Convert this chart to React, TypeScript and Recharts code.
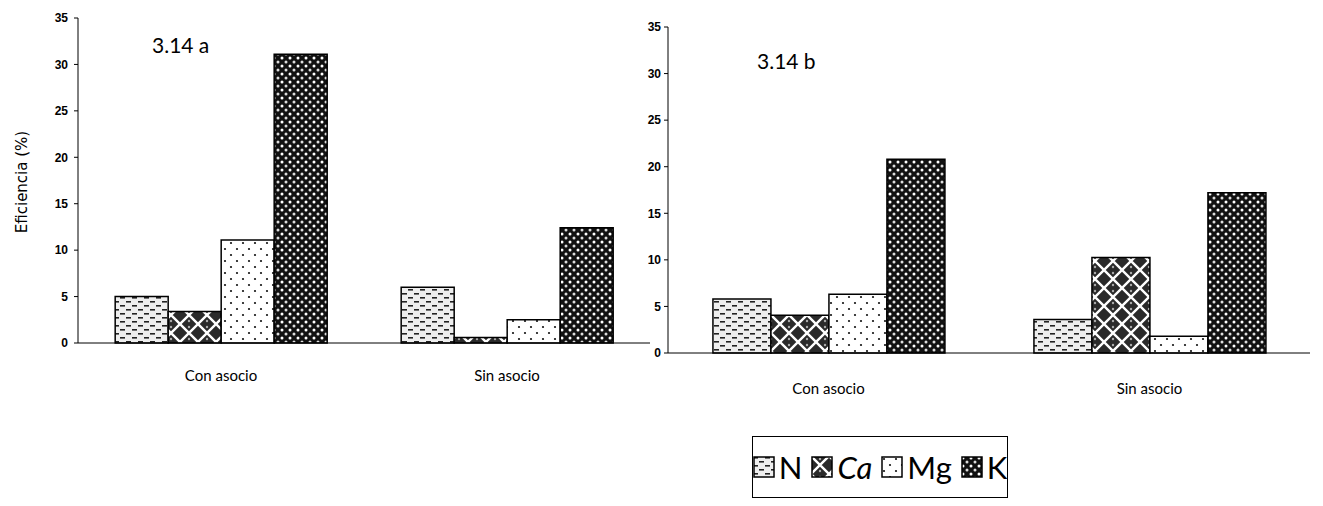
import { Bar, BarChart, Legend, XAxis, YAxis } from "recharts";

const categorias = ["Con asocio", "Sin asocio"];
const nutrientes = ["N", "Ca", "Mg", "K"];

// 3.14 a
const aN = [5.0, 6.0];
const aCa = [3.4, 0.6];
const aMg = [11.1, 2.5];
const aK = [31.1, 12.4];

// 3.14 b
const bN = [5.8, 3.6];
const bCa = [4.05, 10.25];
const bMg = [6.3, 1.8];
const bK = [20.8, 17.2];

const yTicks = [0, 5, 10, 15, 20, 25, 30, 35];

function buildData(n: number[], ca: number[], mg: number[], k: number[]) {
  return categorias.map((cat, i) => ({
    cat,
    N: n[i],
    Ca: ca[i],
    Mg: mg[i],
    K: k[i],
  }));
}

const dataA = buildData(aN, aCa, aMg, aK);
const dataB = buildData(bN, bCa, bMg, bK);

const catFont = "Lato, 'Open Sans', sans-serif";

const Patterns = ({ p }: { p: string }) => (
  <defs>
    <pattern id={`${p}-N`} width="12" height="8" patternUnits="userSpaceOnUse">
      <rect width="12" height="8" fill="#eeeeee" />
      <rect x="0" y="1" width="5" height="1.6" fill="#222" />
      <rect x="6" y="5" width="5" height="1.6" fill="#222" />
    </pattern>
    <pattern id={`${p}-Ca`} width="18" height="18" patternUnits="userSpaceOnUse">
      <rect width="18" height="18" fill="#2a2a2a" />
      <path d="M0 0 L18 18 M18 0 L0 18" stroke="#fff" strokeWidth="2.4" />
      <circle cx="9" cy="3" r="1.2" fill="#aaa" />
      <circle cx="9" cy="15" r="1.2" fill="#aaa" />
    </pattern>
    <pattern id={`${p}-Mg`} width="12" height="12" patternUnits="userSpaceOnUse">
      <rect width="12" height="12" fill="#ffffff" />
      <circle cx="3" cy="3" r="1.1" fill="#111" />
      <circle cx="9" cy="9" r="1.1" fill="#111" />
    </pattern>
    <pattern id={`${p}-K`} width="8" height="8" patternUnits="userSpaceOnUse">
      <rect width="8" height="8" fill="#111" />
      <circle cx="2" cy="2" r="1.5" fill="#fff" />
      <circle cx="6" cy="6" r="1.5" fill="#ddd" />
    </pattern>
  </defs>
);

const CustomLegend = (props: any) => {
  const items = [...(props.payload || [])].sort(
    (x: any, y: any) => nutrientes.indexOf(x.value) - nutrientes.indexOf(y.value)
  );
  return (
    <div
      style={{
        border: "1px solid #000",
        height: 62,
        width: 256,
        display: "flex",
        alignItems: "center",
        justifyContent: "center",
        gap: 9,
        fontFamily: catFont,
        fontSize: 31,
        color: "#000",
        boxSizing: "border-box",
      }}
    >
      {items.map((e: any) => (
        <div key={e.value} style={{ display: "flex", alignItems: "center", gap: 4 }}>
          <svg width={22} height={22}>
            <rect x={1} y={1} width={20} height={20} fill={e.color} stroke="#000" strokeWidth={1.5} />
          </svg>
          <span style={{ fontStyle: e.value === "Ca" ? "italic" : "normal" }}>{e.value}</span>
        </div>
      ))}
    </div>
  );
};

const tickStyle = { fontSize: 12, fill: "#000", fontFamily: "'Liberation Sans', sans-serif", fontWeight: 700 };

const App = () => {
  return (
    <div
      style={{
        position: "absolute",
        top: 0,
        left: 0,
        width: 1323,
        height: 506,
        background: "#fff",
        overflow: "hidden",
      }}
    >
      {/* grafico a */}
      <div style={{ position: "absolute", left: 0, top: 0 }}>
        <BarChart
          width={670}
          height={420}
          data={dataA}
          margin={{ top: 18, right: 20, left: 38, bottom: 37 }}
          barCategoryGap="13%"
          barGap={0}
        >
          <Patterns p="a" />
          <XAxis
            dataKey="cat"
            axisLine={{ stroke: "#000" }}
            tickLine={false}
            tickSize={0}
            tickMargin={27}
            height={40}
            tick={{ fontSize: 15, fill: "#000", fontFamily: catFont }}
          />
          <YAxis
            width={40}
            domain={[0, 35]}
            ticks={yTicks}
            interval={0}
            axisLine={{ stroke: "#000" }}
            tickLine={{ stroke: "#000" }}
            tickSize={4}
            tickMargin={6}
            tick={tickStyle}
          />
          {nutrientes.map((k) => (
            <Bar
              key={k}
              dataKey={k}
              fill={`url(#a-${k})`}
              stroke="#000"
              strokeWidth={1.5}
              isAnimationActive={false}
            />
          ))}
        </BarChart>
      </div>

      {/* grafico b */}
      <div style={{ position: "absolute", left: 600, top: 0 }}>
        <BarChart
          width={723}
          height={506}
          data={dataB}
          margin={{ top: 27, right: 13, left: 28, bottom: 113 }}
          barCategoryGap="14%"
          barGap={0}
        >
          <Patterns p="b" />
          <XAxis
            dataKey="cat"
            axisLine={{ stroke: "#000" }}
            tickLine={false}
            tickSize={0}
            tickMargin={30}
            height={40}
            tick={{ fontSize: 15, fill: "#000", fontFamily: catFont }}
          />
          <YAxis
            width={40}
            domain={[0, 35]}
            ticks={yTicks}
            interval={0}
            axisLine={{ stroke: "#000" }}
            tickLine={{ stroke: "#000" }}
            tickSize={4}
            tickMargin={3}
            tick={tickStyle}
          />
          <Legend
            layout="horizontal"
            verticalAlign="middle"
            align="center"
            content={CustomLegend}
            wrapperStyle={{ left: 152, top: 436, width: 256, height: 62 }}
          />
          {nutrientes.map((k) => (
            <Bar
              key={k}
              dataKey={k}
              fill={`url(#b-${k})`}
              stroke="#000"
              strokeWidth={1.5}
              isAnimationActive={false}
            />
          ))}
        </BarChart>
      </div>

      <div
        style={{
          position: "absolute",
          left: 22,
          top: 182,
          transform: "translate(-50%, -50%) rotate(-90deg)",
          fontFamily: "'DejaVu Sans', sans-serif",
          fontSize: 15,
          whiteSpace: "nowrap",
          color: "#000",
        }}
      >
        Eficiencia (%)
      </div>
      <div style={{ position: "absolute", left: 152, top: 32, fontFamily: catFont, fontSize: 21, color: "#000" }}>
        3.14 a
      </div>
      <div style={{ position: "absolute", left: 757, top: 48, fontFamily: catFont, fontSize: 21, color: "#000" }}>
        3.14 b
      </div>
    </div>
  );
};

export default App;
